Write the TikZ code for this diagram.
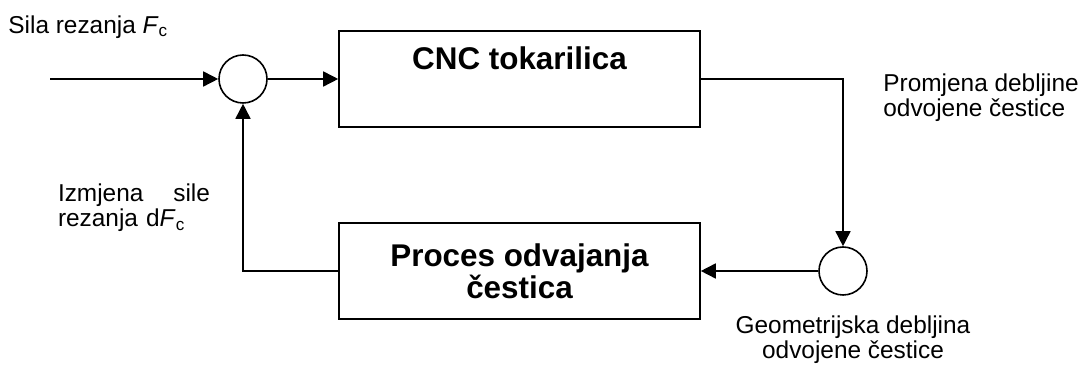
\documentclass[tikz,border=0pt]{standalone}
\usepackage{fontspec}
\setmainfont{Liberation Sans}
\usepackage{tikz}
\usetikzlibrary{arrows.meta,positioning,calc}
\tikzstyle{blok} = [draw, line width=0.8pt, minimum width=180.5pt, minimum height=48pt,
  align=center, font=\fontsize{15.7}{16}\selectfont\bfseries]
\tikzstyle{zbroj} = [draw, circle, line width=0.8pt, minimum size=24pt, inner sep=0pt]
\tikzstyle{tekst} = [font=\fontsize{12.2}{12.6}\selectfont, inner sep=0pt]
\tikzstyle{line} = [draw, line width=0.8pt, -{Triangle[length=7.5pt,width=7.5pt]}]
\newcommand{\blok}[2]{node (b#1)[blok]{#2}}
\newcommand{\zbroj}[1]{node (s#1)[zbroj]{}}
\newcommand{\Fc}{\textit{F}\textsubscript{c}}

\begin{document}
\begin{tikzpicture}[x=0.5pt,y=-0.5pt]
  \useasboundingbox (0,0) rectangle (1081,367);

  % Draw diagram elements

  \path (243,79) \zbroj{1};
  \path (519.5,79) \blok{1}{CNC tokarilica\\ \strut};
  \path (519.5,271) \blok{2}{Proces odvajanja\\ čestica};
  \path (843,271) \zbroj{2};
  \coordinate (ulaz) at (50,79);

  % Labels

  \node (t1)[tekst, anchor=west] at (8,27) {Sila rezanja \Fc};
  \node (t2)[tekst, anchor=west, align=left] at (883,97.5) {Promjena debljine\\ odvojene čestice};
  \node (t3)[tekst, text width=76pt, align=left] at (134,208) {Izmjena\hfill sile\\ rezanja d\Fc};
  \node (t4)[tekst, align=center] at (853,340) {Geometrijska debljina\\ odvojene čestice};

  % Draw arrows between elements

  \path [line] (ulaz) -- (s1);
  \path [line] (s1) -- (b1);
  \path [line] (b1.east) -| (s2);
  \path [line] (s2) -- (b2);
  \path [line] (b2.west) -| (s1);

\end{tikzpicture}
\end{document}
